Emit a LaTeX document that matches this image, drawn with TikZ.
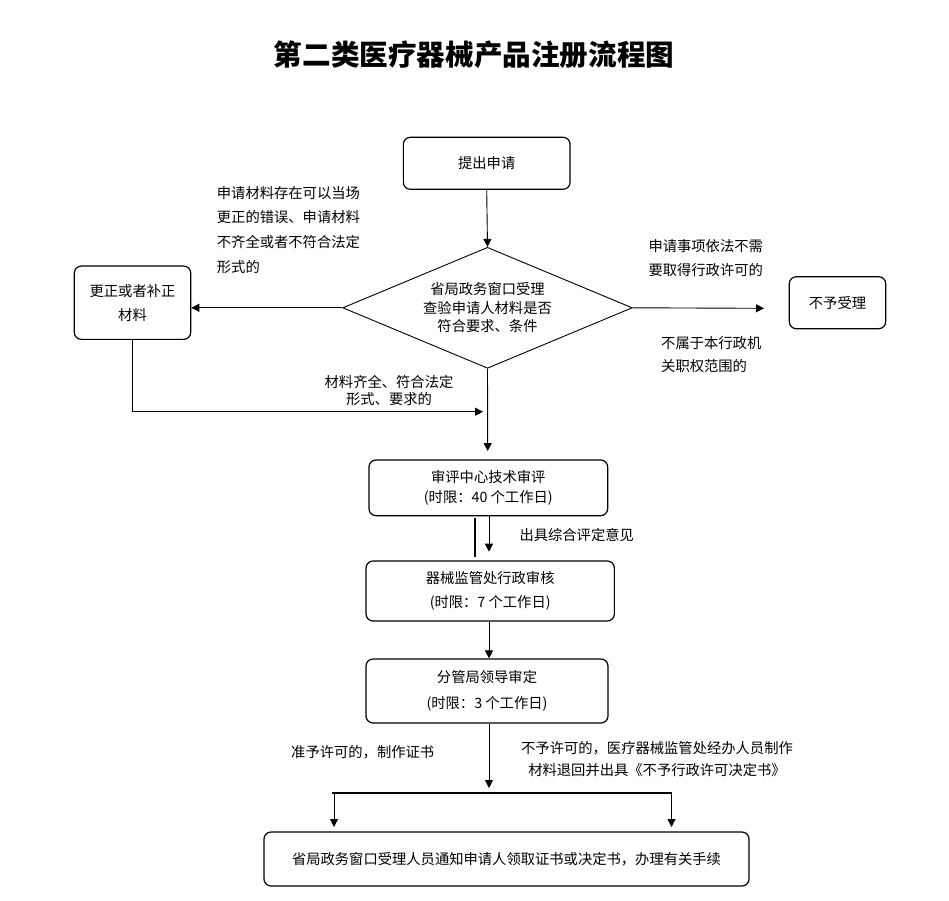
\documentclass[tikz,border=0pt]{standalone}
\usepackage{fontspec}
\setmainfont{Noto Sans CJK SC}
\usetikzlibrary{arrows.meta,shapes.geometric}
\begin{document}
\begin{tikzpicture}[x=1pt,y=-1pt,
  box/.style={draw, line width=1.2pt, rounded corners=7pt, inner sep=0pt, align=center},
  txt/.style={inner sep=0pt},
  arr/.style={line width=0.9pt, -{Triangle[length=8pt,width=8pt]}},
  plain/.style={line width=0.9pt},
  heavy/.style={line width=2.2pt},
  fs/.style={font=\fontsize{14.3}{#1}\selectfont}
]
\fill[white] (0,0) rectangle (949,900);
\useasboundingbox (0,0) rectangle (949,900);

% title
\node[txt, font=\fontsize{28.6}{30}\selectfont\bfseries] (title) at (474,55) {第二类医疗器械产品注册流程图};

% boxes
\node[box, fs=20, minimum width=166.7pt, minimum height=52pt] (apply) at (486.7,163.3) {提出申请};
\node[diamond, aspect=2.4, draw, line width=0.9pt, inner sep=0pt, align=center, fs=18.3,
      minimum width=289.6pt, minimum height=121pt] (check) at (487.5,307.8)
      {省局政务窗口受理\\查验申请人材料是否\\符合要求、条件};
\node[box, fs=24, minimum width=116.4pt, minimum height=73.3pt] (fix) at (132.5,302.7) {更正或者补正\\材料};
\node[box, fs=20, minimum width=96.4pt, minimum height=52pt] (reject) at (837.5,302.7) {不予受理};
\node[box, fs=19.5, minimum width=238.7pt, minimum height=55.7pt] (tech) at (488.3,487.8) {审评中心技术审评\\(时限：40 个工作日)};
\node[box, fs=23.5, minimum width=248.3pt, minimum height=60pt] (admin) at (490.2,591) {器械监管处行政审核\\(时限：7 个工作日)};
\node[box, fs=26, minimum width=242pt, minimum height=64pt] (lead) at (487,691) {分管局领导审定\\(时限：3 个工作日)};
\node[box, fs=20, minimum width=485pt, minimum height=54pt] (notify) at (506.5,859) {省局政务窗口受理人员通知申请人领取证书或决定书，办理有关手续};

% labels
\node[txt, fs=24.7, align=left, anchor=west] (lblfix) at (216.7,229.7)
  {申请材料存在可以当场\\更正的错误、申请材料\\不齐全或者不符合法定\\形式的};
\node[txt, fs=23.5, align=left, anchor=west] (lblno1) at (648.3,258.3)
  {申请事项依法不需\\要取得行政许可的};
\node[txt, fs=22.5, align=left, anchor=west] (lblno2) at (661,354.5)
  {不属于本行政机\\关职权范围的};
\node[txt, fs=17.7, align=center] (lblok) at (389,390.5)
  {材料齐全、符合法定\\形式、要求的};
\node[txt, fs=20, anchor=west] (lblopin) at (519.3,535) {出具综合评定意见};
\node[txt, fs=20, anchor=west] (lblgrant) at (291,752) {准予许可的，制作证书};
\node[txt, fs=22, align=center] (lbldeny) at (657,759)
  {不予许可的，医疗器械监管处经办人员制作\\材料退回并出具《不予行政许可决定书》};

% coordinates
\coordinate (rejtip) at (764,308.3);
\coordinate (fixtip) at (483,411.7);
\coordinate (techtip) at (487.7,451);
\coordinate (optop) at (475,518.3);
\coordinate (opbot) at (475,556.7);
\coordinate (opatop) at (489,516);
\coordinate (opatip) at (489,551.7);
\coordinate (splittip) at (489,788);
\coordinate (barL) at (332,792.7);
\coordinate (barR) at (672,792.7);
\coordinate (lefttop) at (334,792.7);
\coordinate (righttop) at (671.5,792.7);
\coordinate (lefttip) at (334,827);
\coordinate (righttip) at (671.5,827);

% connectors
\draw[arr] (apply.south) -- (check.north);
\draw[arr] (check.west) -- (check.west -| fix.east);
\draw[arr] (check.east) -- (rejtip);
\draw[arr] (fix.south -| 132.7,0) |- (fixtip);
\draw[arr] (check.south) -- (techtip);
\draw[heavy] (optop) -- (opbot);
\draw[arr] (opatop) -- (opatip);
\draw[arr] (admin.south -| 489,0) -- (lead.north -| 489,0);
\draw[arr] (lead.south -| 489,0) -- (splittip);
\draw[heavy] (barL) -- (barR);
\draw[arr] (lefttop) -- (lefttip);
\draw[arr] (righttop) -- (righttip);
\end{tikzpicture}
\end{document}
